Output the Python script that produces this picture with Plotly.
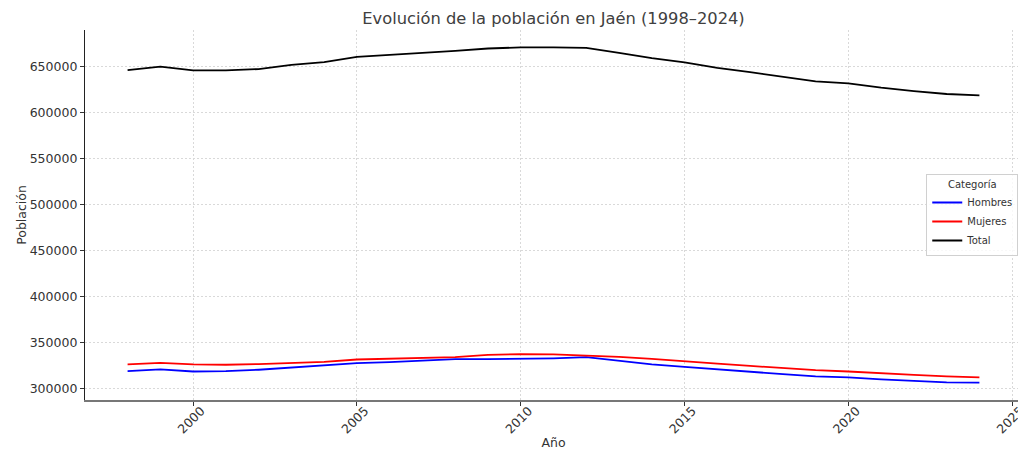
import plotly.graph_objects as go

years = list(range(1998, 2025))
hombres = [319100, 320900, 318700, 319000, 320600, 322700, 324900, 327700, 328800, 330300,
           332100, 332100, 332400, 333000, 334200, 330300, 326300, 323800, 320900, 318700,
           315800, 313300, 312200, 310100, 308600, 306800, 306500]
mujeres = [326300, 328100, 326300, 326000, 326700, 328100, 329200, 331700, 332800, 333500,
           334200, 336800, 337500, 337200, 336000, 334600, 332400, 330200, 327300, 324800,
           322300, 320100, 318700, 316600, 315100, 313300, 312200]
total = [645600, 649600, 645400, 645400, 646900, 651400, 654400, 660100, 662300, 664100,
         666600, 669200, 670400, 670300, 669900, 664500, 658700, 654000, 648200, 643500,
         638100, 633400, 631300, 626600, 623000, 619800, 618400]

series = [("Hombres", hombres, "blue"), ("Mujeres", mujeres, "red"), ("Total", total, "black")]

TXT = "#333333"
FONT = "DejaVu Sans"
W, H = 1018, 442  # page body has an 8px margin

fig = go.Figure()
for name, vals, color in series:
    fig.add_trace(go.Scatter(x=years, y=vals, mode="lines", name=name,
                             line=dict(color=color, width=1.8)))

fig.update_layout(
    width=W, height=H,
    margin=dict(l=77, r=4, t=22, b=50),
    paper_bgcolor="white", plot_bgcolor="white",
    font=dict(family=FONT, color=TXT, size=12.5),
    title=dict(text="Evolución de la población en Jaén (1998–2024)",
               xref="paper", x=0.5, xanchor="center",
               yref="container", y=1 - 10 / H, yanchor="middle",
               font=dict(size=16.3, color="#404040")),
    legend=dict(title=dict(text="Categoría", side="top center", font=dict(size=10)),
                font=dict(size=10), x=0.996, xanchor="right", y=0.5, yanchor="middle",
                bgcolor="rgba(255,255,255,0.8)", bordercolor="#d0d0d0", borderwidth=1,
                tracegroupgap=0),
    showlegend=True,
)
fig.update_xaxes(
    automargin=False,
    title=dict(text="Año", font=dict(size=12.5), standoff=4),
    range=[1996.7, 2025.3], tickmode="array", tickvals=[2000, 2005, 2010, 2015, 2020, 2025],
    tickangle=-45, ticks="outside", ticklen=4, tickcolor=TXT,
    ticklabelshift=8, ticklabelstandoff=-7, ticklabeloverflow="allow",
    showline=True, linecolor="#777777", linewidth=1.5,
    showgrid=True, gridcolor="#d9d9d9", griddash="2px,2px", gridwidth=0.8, zeroline=False,
)
fig.update_yaxes(
    automargin=False,
    title=dict(text="Población", font=dict(size=12.5), standoff=0),
    range=[287750, 689250], tickmode="array",
    tickvals=list(range(300000, 650001, 50000)), tickformat="d",
    ticks="outside", ticklen=4, tickcolor=TXT,
    showline=True, linecolor="#222222", linewidth=1.2,
    showgrid=True, gridcolor="#d9d9d9", griddash="2px,2px", gridwidth=0.8, zeroline=False,
)

fig.write_html("out.html")
